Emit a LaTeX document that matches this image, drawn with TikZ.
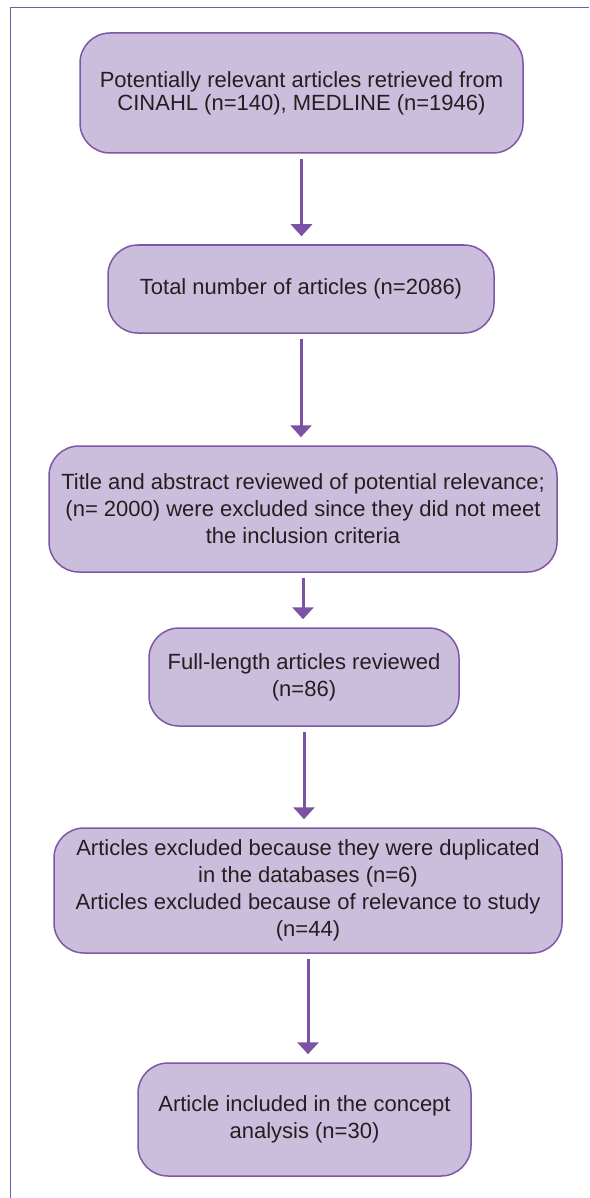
\documentclass[tikz,border=0pt]{standalone}
\usepackage{fontspec}
\setmainfont{Liberation Sans}
\usepackage{tikz}
\usetikzlibrary{arrows.meta,positioning}

\definecolor{boxfill}{HTML}{CBBEDD}
\definecolor{boxline}{HTML}{7E57A6}
\definecolor{flowcol}{HTML}{7B52A5}
\definecolor{txtcol}{HTML}{231F20}

\tikzset{
    stage/.style={draw=boxline, line width=0.75pt, fill=boxfill, rounded corners=15pt,
        align=center, inner sep=0pt, text=txtcol, font=\fontsize{11}{13.5}\selectfont},
    flow/.style={draw=flowcol, line width=1.5pt, -{Triangle[width=10.5pt,length=6pt]},
        shorten <=2.5pt, shorten >=4pt},
}

\begin{document}
\begin{tikzpicture}[x=0.5pt, y=-0.5pt]

    \useasboundingbox (0,0) rectangle (589,1198);

    % Frame lines (left and top)
    \draw[boxline, line width=0.5pt] (10,1198) -- (10,8) -- (589,8);

    % --- Stages of the search ---
    \node[stage, font=\fontsize{11}{11.5}\selectfont, minimum width=221.5pt, minimum height=60pt] (retrieved) at (301.5,93)
        {Potentially relevant articles retrieved from\\CINAHL (n=140), MEDLINE (n=1946)};

    \node[stage, minimum width=193pt, minimum height=44pt] (total) at (301,289)
        {Total number of articles (n=2086)};

    \node[stage, minimum width=254pt, minimum height=63pt] (screened) at (303,509)
        {Title and abstract reviewed of potential relevance;\\(n= 2000) were excluded since they did not meet\\the inclusion criteria};

    \node[stage, minimum width=155pt, minimum height=49pt] (fulltext) at (304,677)
        {Full-length articles reviewed\\(n=86)};

    \node[stage, minimum width=254pt, minimum height=62.5pt] (excluded) at (308,890.5)
        {Articles excluded because they were duplicated\\in the databases (n=6)\\Articles excluded because of relevance to study\\(n=44)};

    \node[stage, minimum width=166.5pt, minimum height=56.5pt] (included) at (304.5,1119.5)
        {Article included in the concept\\analysis (n=30)};

    % --- Arrows between stages ---
    \draw[flow] (retrieved.south) -- (retrieved.south |- total.north);
    \draw[flow] (total.south) -- (total.south |- screened.north);
    \draw[flow] (screened.south) -- (screened.south |- fulltext.north);
    \draw[flow] (fulltext.south) -- (fulltext.south |- excluded.north);
    \draw[flow] (excluded.south) -- (excluded.south |- included.north);

\end{tikzpicture}
\end{document}
